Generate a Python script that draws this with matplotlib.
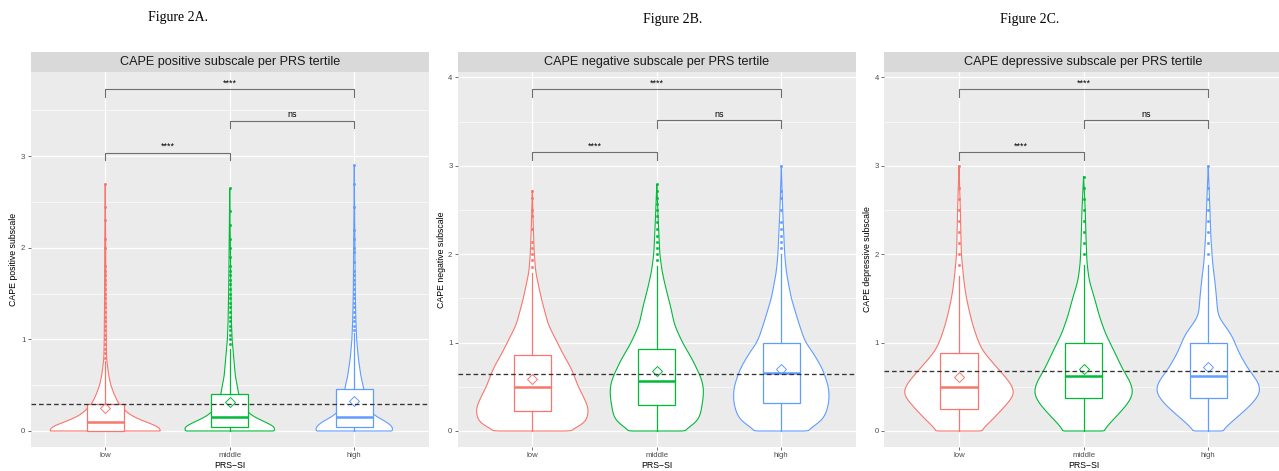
import numpy as np
import matplotlib
matplotlib.use("Agg")
import matplotlib.pyplot as plt

# ---------------- data ----------------
groups = ["low", "middle", "high"]
colors = ["#F8766D", "#00BA38", "#619CFF"]
fig_titles = ["Figure 2A.", "Figure 2B.", "Figure 2C."]
strip_titles = ["CAPE positive subscale per PRS tertile",
                "CAPE negative subscale per PRS tertile",
                "CAPE depressive subscale per PRS tertile"]
y_labels = ["CAPE positive subscale", "CAPE negative subscale", "CAPE depressive subscale"]
x_label = "PRS\u2212SI"
ref_lines = [0.29, 0.65, 0.68]

# box statistics per panel (low, middle, high)
pos_q1 = [0.0, 0.047, 0.047]
pos_med = [0.10, 0.156, 0.156]
pos_q3 = [0.30, 0.40, 0.455]
pos_whi = [0.76, 0.90, 1.07]
pos_mean = [0.247, 0.32, 0.324]

neg_q1 = [0.222, 0.29, 0.313]
neg_med = [0.50, 0.57, 0.652]
neg_q3 = [0.86, 0.93, 1.0]
neg_whi = [1.79, 1.87, 2.0]
neg_mean = [0.585, 0.68, 0.705]

dep_q1 = [0.25, 0.377, 0.377]
dep_med = [0.50, 0.626, 0.626]
dep_q3 = [0.88, 1.0, 1.0]
dep_whi = [1.75, 1.88, 1.88]
dep_mean = [0.615, 0.705, 0.72]

# outliers
pos_out_low = [0.8, 0.85, 0.9, 0.95, 1.0, 1.05, 1.1, 1.15, 1.2, 1.25, 1.3, 1.35, 1.4, 1.45,
               1.5, 1.55, 1.6, 1.65, 1.7, 1.75, 1.8, 2.0, 2.1, 2.3, 2.45, 2.7]
pos_out_mid = [0.95, 1.0, 1.05, 1.1, 1.15, 1.2, 1.25, 1.3, 1.35, 1.4, 1.45, 1.5, 1.55, 1.6,
               1.65, 1.7, 1.75, 1.8, 1.9, 2.0, 2.1, 2.25, 2.4, 2.65]
pos_out_high = [1.1, 1.15, 1.2, 1.25, 1.3, 1.35, 1.4, 1.45, 1.5, 1.55, 1.6, 1.65, 1.7, 1.75,
                1.85, 1.95, 2.0, 2.1, 2.2, 2.45, 2.7, 2.9]
neg_out_low = [1.86, 1.93, 2.0, 2.07, 2.14, 2.29, 2.43, 2.5, 2.64, 2.71]
neg_out_mid = [1.93, 2.0, 2.07, 2.14, 2.21, 2.29, 2.36, 2.43, 2.5, 2.57, 2.64, 2.71, 2.79]
neg_out_high = [2.07, 2.14, 2.21, 2.29, 2.36, 2.5, 2.64, 2.71, 3.0]
dep_out_low = [1.875, 2.0, 2.125, 2.25, 2.375, 2.5, 2.625, 2.75, 3.0]
dep_out_mid = [2.0, 2.125, 2.25, 2.375, 2.5, 2.625, 2.75, 2.875]
dep_out_high = [2.0, 2.125, 2.25, 2.375, 2.5, 2.625, 2.75, 3.0]

# violin outlines: y levels and half widths (category units)
pos_vy_low = [0, 0.02, 0.05, 0.1, 0.15, 0.2, 0.3, 0.4, 0.5, 0.6, 0.7, 0.8, 1.0, 1.5, 2.0, 2.7]
pos_vw_low = [0.441, 0.449, 0.422, 0.324, 0.235, 0.176, 0.107, 0.072, 0.045, 0.029, 0.019, 0.011, 0.008, 0.005, 0.004, 0]
pos_vy_mid = [0, 0.02, 0.05, 0.1, 0.15, 0.2, 0.3, 0.4, 0.5, 0.6, 0.8, 1.0, 1.2, 1.6, 2.0, 2.65]
pos_vw_mid = [0.348, 0.372, 0.356, 0.281, 0.201, 0.150, 0.094, 0.072, 0.059, 0.045, 0.032, 0.019, 0.013, 0.008, 0.005, 0]
pos_vy_high = [0, 0.02, 0.05, 0.1, 0.15, 0.2, 0.3, 0.4, 0.5, 0.6, 0.8, 1.0, 1.2, 1.5, 2.0, 2.9]
pos_vw_high = [0.299, 0.316, 0.305, 0.257, 0.187, 0.136, 0.099, 0.083, 0.070, 0.053, 0.032, 0.019, 0.013, 0.008, 0.005, 0]

neg_vy_low = [0, 0.05, 0.1, 0.25, 0.4, 0.5, 0.7, 0.9, 1.0, 1.2, 1.5, 1.8, 2.0, 2.3, 2.72]
neg_vw_low = [0.268, 0.388, 0.434, 0.455, 0.407, 0.369, 0.316, 0.236, 0.201, 0.129, 0.072, 0.027, 0.016, 0.008, 0]
neg_vy_mid = [0, 0.05, 0.1, 0.2, 0.4, 0.5, 0.6, 0.8, 1.0, 1.2, 1.4, 1.6, 1.8, 2.0, 2.4, 2.79]
neg_vw_mid = [0.201, 0.268, 0.327, 0.353, 0.375, 0.375, 0.356, 0.289, 0.206, 0.142, 0.112, 0.075, 0.043, 0.024, 0.011, 0]
neg_vy_high = [0, 0.05, 0.1, 0.2, 0.35, 0.5, 0.7, 0.9, 1.0, 1.2, 1.5, 1.8, 2.0, 2.5, 3.0]
neg_vw_high = [0.187, 0.254, 0.321, 0.361, 0.386, 0.380, 0.332, 0.249, 0.193, 0.145, 0.080, 0.040, 0.027, 0.011, 0]

dep_vy_low = [0, 0.1, 0.2, 0.3, 0.4, 0.45, 0.55, 0.7, 0.8, 0.9, 1.0, 1.2, 1.4, 1.6, 1.8, 2.0, 2.5, 3.0]
dep_vw_low = [0.166, 0.249, 0.316, 0.382, 0.441, 0.449, 0.409, 0.316, 0.254, 0.193, 0.158, 0.110, 0.075, 0.048, 0.032, 0.019, 0.011, 0]
dep_vy_mid = [0, 0.1, 0.2, 0.3, 0.4, 0.45, 0.55, 0.7, 0.9, 1.1, 1.3, 1.5, 1.7, 1.9, 2.2, 2.5, 2.88]
dep_vw_mid = [0.152, 0.219, 0.286, 0.350, 0.393, 0.398, 0.377, 0.313, 0.246, 0.176, 0.126, 0.088, 0.045, 0.027, 0.019, 0.013, 0]
dep_vy_high = [0, 0.1, 0.2, 0.3, 0.4, 0.45, 0.55, 0.7, 0.9, 1.0, 1.1, 1.2, 1.3, 1.5, 1.7, 1.9, 2.2, 2.6, 3.0]
dep_vw_high = [0.102, 0.187, 0.267, 0.348, 0.404, 0.422, 0.404, 0.321, 0.241, 0.214, 0.182, 0.128, 0.078, 0.067, 0.053, 0.035, 0.021, 0.011, 0]

# significance brackets: (from, to, y, label)
pos_brackets = [(0, 2, 3.73, "****"), (1, 2, 3.39, "ns"), (0, 1, 3.04, "****")]
neg_brackets = [(0, 2, 3.87, "****"), (1, 2, 3.515, "ns"), (0, 1, 3.15, "****")]
dep_brackets = [(0, 2, 3.87, "****"), (1, 2, 3.515, "ns"), (0, 1, 3.15, "****")]


def smooth_outline(y, w, smooth_frac):
    """Resample a hand-read outline on a fine grid and soften its corners."""
    y = np.asarray(y, float)
    w = np.asarray(w, float)
    yy = np.linspace(y[0], y[-1], 600)
    ww = np.interp(yy, y, w)
    sig = max(1.0, smooth_frac * len(yy))
    k = np.arange(-int(3 * sig), int(3 * sig) + 1)
    ker = np.exp(-0.5 * (k / sig) ** 2)
    ker /= ker.sum()
    pad = len(k) // 2
    wp = np.concatenate([np.full(pad, ww[0]), ww, np.full(pad, 0.0)])
    ws = np.convolve(wp, ker, mode="valid")
    ws[-1] = 0.0
    ws[0] = ww[0]
    return yy, ws


# ---------------- layout ----------------
W, H = 1279, 471
fig = plt.figure(figsize=(W / 100, H / 100), dpi=100)
SANS = ["Liberation Sans", "DejaVu Sans"]
SERIF = ["Liberation Serif", "DejaVu Serif"]

panel_px = [(30.5, 429.0), (457.6, 856.0), (884.2, 1283.0)]
panel_top, panel_bot = 72, 447
ylims = [(-0.175, 3.92), (-0.181, 4.06), (-0.181, 4.06)]
yticks = [[0, 1, 2, 3], [0, 1, 2, 3, 4], [0, 1, 2, 3, 4]]
tip_len = [0.08, 0.09, 0.09]
smooth = [0.008, 0.018, 0.018]
fig_title_pos = [(178, 17), (673, 20), (1030, 20)]

panels = [
    dict(q1=pos_q1, med=pos_med, q3=pos_q3, whi=pos_whi, mean=pos_mean,
         out=[pos_out_low, pos_out_mid, pos_out_high],
         vy=[pos_vy_low, pos_vy_mid, pos_vy_high], vw=[pos_vw_low, pos_vw_mid, pos_vw_high],
         br=pos_brackets),
    dict(q1=neg_q1, med=neg_med, q3=neg_q3, whi=neg_whi, mean=neg_mean,
         out=[neg_out_low, neg_out_mid, neg_out_high],
         vy=[neg_vy_low, neg_vy_mid, neg_vy_high], vw=[neg_vw_low, neg_vw_mid, neg_vw_high],
         br=neg_brackets),
    dict(q1=dep_q1, med=dep_med, q3=dep_q3, whi=dep_whi, mean=dep_mean,
         out=[dep_out_low, dep_out_mid, dep_out_high],
         vy=[dep_vy_low, dep_vy_mid, dep_vy_high], vw=[dep_vw_low, dep_vw_mid, dep_vw_high],
         br=dep_brackets),
]

for p, d in enumerate(panels):
    l, r = panel_px[p]
    ax = fig.add_axes([l / W, 1 - panel_bot / H, (r - l) / W, (panel_bot - panel_top) / H])
    ax.set_facecolor("#EBEBEB")
    ax.set_xlim(-0.6, 2.6)
    ax.set_ylim(*ylims[p])
    ax.set_yticks(yticks[p])
    ax.set_yticks([v + 0.5 for v in yticks[p][:-1]] + ([3.5] if p == 0 else []), minor=True)
    ax.set_xticks(range(3))
    ax.set_xticklabels(groups)
    ax.grid(which="major", color="white", lw=0.9)
    ax.grid(which="minor", axis="y", color="white", lw=0.45)
    ax.set_axisbelow(True)
    for s in ax.spines.values():
        s.set_visible(False)
    ax.tick_params(axis="both", which="major", length=2.2, width=0.5, color="#333333",
                   labelcolor="#4D4D4D", labelsize=5.6, pad=1.5)
    ax.tick_params(which="minor", length=0)
    for t in ax.get_xticklabels() + ax.get_yticklabels():
        t.set_family(SANS)
    ax.set_xlabel(x_label, family=SANS, fontsize=6.3, color="black", labelpad=1)
    ax.set_ylabel(y_labels[p], family=SANS, fontsize=6.3, color="black", labelpad=1.8)

    # violins
    for i in range(3):
        y, w = smooth_outline(d["vy"][i], d["vw"][i], smooth[p])
        xs = np.concatenate([i - w, (i + w)[::-1]])
        ys = np.concatenate([y, y[::-1]])
        ax.fill(xs, ys, facecolor="white", edgecolor=colors[i], lw=0.8, zorder=2)

    # boxplots
    for i in range(3):
        st = dict(med=d["med"][i], q1=d["q1"][i], q3=d["q3"][i],
                  whislo=0.0, whishi=d["whi"][i], fliers=d["out"][i], mean=d["mean"][i])
        ax.bxp([st], positions=[i], widths=0.3, showcaps=False, showmeans=True,
               patch_artist=True, manage_ticks=False,
               boxprops=dict(facecolor="white", edgecolor=colors[i], lw=0.9),
               whiskerprops=dict(color=colors[i], lw=0.9),
               medianprops=dict(color=colors[i], lw=1.8),
               meanprops=dict(marker="D", markersize=5.5, markerfacecolor="none",
                              markeredgecolor=colors[i], markeredgewidth=0.7),
               flierprops=dict(marker="o", markersize=1.8, markerfacecolor=colors[i],
                               markeredgecolor=colors[i], markeredgewidth=0.3),
               zorder=3)

    ax.axhline(ref_lines[p], color="#333333", lw=0.95, ls=(0, (3.5, 2.2)), zorder=5)

    # brackets
    for (a, b, yb, lab) in d["br"]:
        t = tip_len[p]
        ax.plot([a, a, b, b], [yb - t, yb, yb, yb - t], color="#6E6E6E", lw=0.8, zorder=4)
        ax.annotate(lab, xy=((a + b) / 2, yb), xytext=(0, 2.5), textcoords="offset points",
                    ha="center", va="baseline", fontsize=6.5, family=SANS, color="black")

    # strip
    sax = fig.add_axes([l / W, 1 - panel_top / H, (r - l) / W, 20 / H])
    sax.set_facecolor("#D9D9D9")
    sax.set_xticks([])
    sax.set_yticks([])
    for s in sax.spines.values():
        s.set_visible(False)
    sax.text(0.5, 0.5, strip_titles[p], ha="center", va="center", fontsize=9.1,
             family=SANS, color="#1A1A1A", transform=sax.transAxes)

    fx, fy = fig_title_pos[p]
    fig.text(fx / W, 1 - fy / H, fig_titles[p], ha="center", va="center",
             fontsize=10, family=SERIF, color="black")

fig.savefig("out.png", dpi=100)
